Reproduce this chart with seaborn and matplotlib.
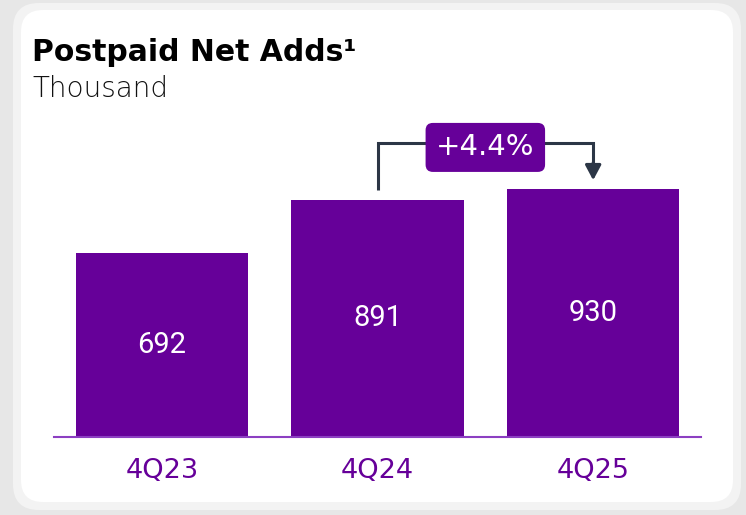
import matplotlib
matplotlib.use("Agg")
import matplotlib.pyplot as plt
from matplotlib.patches import FancyBboxPatch
import seaborn as sns
import pandas as pd

# Data
quarters = ["4Q23", "4Q24", "4Q25"]
net_adds = [692, 891, 930]
growth_label = "+4.4%"

title = "Postpaid Net Adds\u00b9"
subtitle = "Thousand"

PURPLE = "#660099"
AXIS_PURPLE = "#8c3fc2"
ARROW = "#2c3646"

sns.set_theme(style="white")
plt.rcParams["font.family"] = ["DejaVu Sans"]

fig = plt.figure(figsize=(7.46, 5.15), dpi=100, facecolor="#e7e7e7")

# Rounded card background (display pixel coordinates)
ring = FancyBboxPatch((13, 5), 728, 507, boxstyle="round,pad=0,rounding_size=26",
                      transform=None, fc="#f3f3f3", ec="none", zorder=0)
card = FancyBboxPatch((21, 13), 712, 492, boxstyle="round,pad=0,rounding_size=22",
                      transform=None, fc="white", ec="none", zorder=0)
fig.add_artist(ring)
fig.add_artist(card)

ax = fig.add_axes([54 / 746, 78 / 515, 647 / 746, 337 / 515])
ax.set_facecolor("none")

df = pd.DataFrame({"quarter": quarters, "adds": net_adds})
sns.barplot(data=df, x="quarter", y="adds", color=PURPLE, saturation=1,
            width=0.8, linewidth=0, ax=ax)

ax.set_xlim(-0.5, len(quarters) - 0.5)
ax.set_ylim(0, 1265)
ax.set_xlabel("")
ax.set_ylabel("")
ax.set_yticks([])
for side in ["top", "right", "left"]:
    ax.spines[side].set_visible(False)
ax.spines["bottom"].set_color(AXIS_PURPLE)
ax.spines["bottom"].set_linewidth(1.5)
ax.tick_params(axis="x", length=0, pad=15, labelsize=19.5, labelcolor=PURPLE)

# Value labels inside bars
for i, v in enumerate(net_adds):
    ax.text(i, v / 2, f"{v}", ha="center", va="center", color="white",
            fontsize=21, family=["Roboto", "DejaVu Sans"])

# Growth bracket between last two bars
y_bracket = max(net_adds) + 172
left_i, right_i = len(quarters) - 2, len(quarters) - 1
ax.plot([left_i, left_i, right_i, right_i],
        [net_adds[left_i] + 36, y_bracket, y_bracket, net_adds[right_i] + 95],
        color=ARROW, lw=2.2, solid_joinstyle="miter", solid_capstyle="butt",
        clip_on=False)
ax.annotate("", xy=(right_i, net_adds[right_i] + 34),
            xytext=(right_i, net_adds[right_i] + 100),
            arrowprops=dict(arrowstyle="-|>,head_length=0.75,head_width=0.4",
                            color=ARROW, lw=2.2, shrinkA=0, shrinkB=0),
            annotation_clip=False)
ax.text((left_i + right_i) / 2, y_bracket - 15, growth_label, ha="center",
        va="center", color="white", fontsize=21,
        bbox=dict(boxstyle="round,pad=0.36,rounding_size=0.25", fc=PURPLE,
                  ec="none"))

# Title block
fig.text(32 / 746, 1 - 61 / 515, title, fontsize=21.5, fontweight="bold",
         color="black", va="baseline")
fig.text(32 / 746, 1 - 97 / 515, subtitle, fontsize=20, fontweight="light",
         color="#111111", va="baseline")

fig.savefig("out.png", dpi=100, facecolor=fig.get_facecolor())
